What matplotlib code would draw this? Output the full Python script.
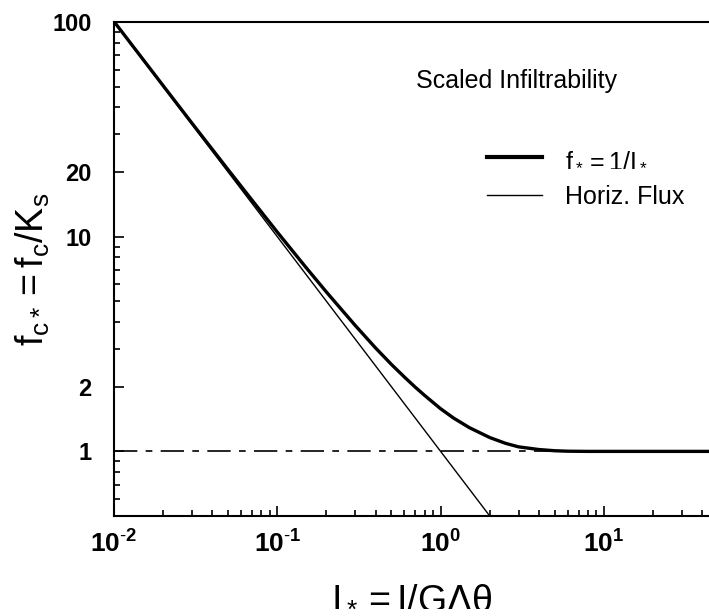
import numpy as np
import matplotlib.pyplot as plt
from matplotlib.ticker import FixedLocator, NullFormatter

plt.rcParams['font.family'] = ['Liberation Sans', 'DejaVu Sans']
plt.rcParams['mathtext.fontset'] = 'custom'
plt.rcParams['mathtext.rm'] = 'Liberation Sans'
plt.rcParams['mathtext.it'] = 'Liberation Sans'
plt.rcParams['mathtext.bf'] = 'Liberation Sans:bold'

# scaled infiltrability curve
i_star = [0.01, 0.015, 0.02, 0.03, 0.05, 0.07, 0.1, 0.15, 0.2, 0.3, 0.4, 0.5,
          0.6, 0.7, 0.8, 1.0, 1.2, 1.5, 2.0, 2.5, 3.0, 4.0, 5.0, 6.0, 8.0,
          10.0, 20.0, 44.0]
f_star = [100.5, 67.2, 50.5, 33.8, 20.5, 14.8, 10.5, 7.18, 5.52, 3.86, 3.03,
          2.54, 2.22, 1.99, 1.82, 1.58, 1.43, 1.29, 1.16, 1.09, 1.05, 1.02,
          1.007, 1.002, 1.0, 1.0, 1.0, 1.0]

# horizontal flux line
i_flux = [0.01, 2.0]
f_flux = [100.0, 0.5]

y_ticks = [1, 2, 10, 20, 100]
x_ticks = [0.01, 0.1, 1, 10]
x_labels = [r'$\mathregular{10^{\text{-}2}}$', r'$\mathregular{10^{\text{-}1}}$',
            r'$\mathregular{10^{0}}$', r'$\mathregular{10^{1}}$']

fig = plt.figure(figsize=(7.09, 6.16), dpi=100)
ax = fig.add_axes([0.1608, 0.1623, 0.8392, 0.802])

ax.axhline(1.0, color='black', linewidth=1.2, dashes=(14, 5, 4, 5))
ax.plot(i_star, f_star, color='black', linewidth=2.4, label=r'$\mathregular{f_* = 1/I_*}$')
ax.plot(i_flux, f_flux, color='black', linewidth=1.0, label='Horiz. Flux')

ax.set_xscale('log')
ax.set_yscale('log')
ax.set_xlim(0.01, 44)
ax.set_ylim(0.5, 100)

ax.spines['right'].set_visible(False)
for s in ['left', 'bottom', 'top']:
    ax.spines[s].set_linewidth(1.5)

ax.xaxis.set_major_locator(FixedLocator(x_ticks))
ax.set_xticklabels(x_labels)
minor_x = [m * 10.0 ** e for e in range(-2, 2) for m in range(2, 10)]
ax.xaxis.set_minor_locator(FixedLocator(minor_x))
ax.xaxis.set_minor_formatter(NullFormatter())

ax.yaxis.set_major_locator(FixedLocator(y_ticks))
ax.set_yticklabels([str(v) for v in y_ticks])
minor_y = [0.5, 0.6, 0.7, 0.8, 0.9] + [3, 4, 5, 6, 7, 8, 9] + [30, 40, 50, 60, 70, 80, 90]
ax.yaxis.set_minor_locator(FixedLocator(minor_y))
ax.yaxis.set_minor_formatter(NullFormatter())

ax.tick_params(which='both', direction='in', top=False, right=False, width=1.2)
ax.tick_params(which='major', length=7)
ax.tick_params(which='minor', length=4)
ax.tick_params(axis='y', which='major', labelsize=17, pad=16)
ax.tick_params(axis='x', which='major', labelsize=19, pad=10)
for lab in ax.get_xticklabels() + ax.get_yticklabels():
    lab.set_fontweight('bold')

ax.set_xlabel(r'$\mathregular{I_* = I/G\Delta\theta}$', fontsize=27, va='top')
ax.xaxis.set_label_coords(0.5, -0.125)
ax.set_ylabel(r'$\mathregular{f_{c*} = f_c/K_s}$', fontsize=27)
ax.yaxis.set_label_coords(-0.105, 0.5)

fig.text(617 / 709, (616 - 88) / 616, 'Scaled Infiltrability', fontsize=18,
         ha='right', va='baseline')

leg = ax.legend(loc='upper left', bbox_to_anchor=(0.627, 0.747), frameon=False,
                fontsize=18, handlelength=2.2, handletextpad=0.9,
                labelspacing=0.55, borderpad=0, borderaxespad=0)
leg.get_lines()[0].set_linewidth(3.0)

fig.savefig('out.png', dpi=100)
